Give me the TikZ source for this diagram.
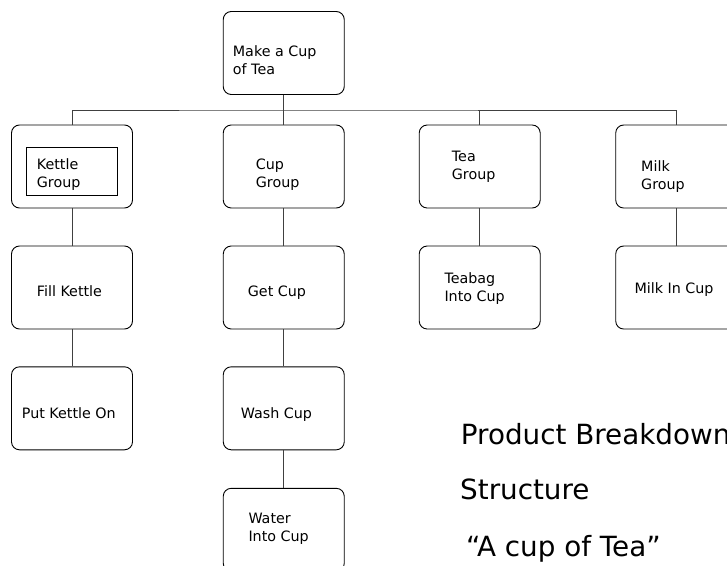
\documentclass[tikz,border=0pt]{standalone}
\usepackage{fontspec}
\setmainfont{DejaVu Sans}
\begin{document}
\begin{tikzpicture}[x=1pt,y=-1pt,
  box/.style={draw=black, line width=0.9pt, rounded corners=8pt,
    minimum width=121pt, minimum height=83pt, inner sep=0pt},
  lbl/.style={anchor=base west, inner sep=0pt, align=left,
    font=\fontsize{14.3}{18}\selectfont},
  big/.style={anchor=base west, inner sep=0pt,
    font=\fontsize{27.8}{33}\selectfont},
  link/.style={draw=black!75, line width=0.9pt}]
\useasboundingbox (0,0) rectangle (727,565);

% boxes of the breakdown tree
\node[box] (mk) at (283.75,53) {};
\node[box] (kg) at (72,166.5) {};
\node[box] (cg) at (283.75,166.5) {};
\node[box] (tg) at (479.7,166.5) {};
\node[box] (mg) at (676.2,166.5) {};
\node[box] (fk) at (72,287.5) {};
\node[box] (gc) at (283.75,287.5) {};
\node[box] (tb) at (479.7,287.5) {};
\node[box] (mc) at (676.2,287.5) {};
\node[box] (pk) at (72,408.3) {};
\node[box] (wc) at (283.75,408.3) {};
\node[box] (wi) at (283.75,529.8) {};

% plain frame inside the kettle group
\draw[line width=0.9pt] (26.7,147.3) rectangle (117.3,195.7);

% labels (base anchor sits on the last line)
\node[lbl] (mkt) at (232.7,74) {Make a Cup\\of Tea};
\node[lbl] (kgt) at (36.7,187.5) {Kettle\\Group};
\node[lbl] (cgt) at (255.7,187.3) {Cup\\Group};
\node[lbl] (tgt) at (451.7,179.3) {Tea\\Group};
\node[lbl] (mgt) at (641,189.3) {Milk\\Group};
\node[lbl] (fkt) at (36.7,296.7) {Fill Kettle};
\node[lbl] (gct) at (247.7,296.7) {Get Cup};
\node[lbl] (tbt) at (444.3,301) {Teabag\\Into Cup};
\node[lbl] (mct) at (634.3,293.3) {Milk In Cup};
\node[lbl] (pkt) at (21.7,418.3) {Put Kettle On};
\node[lbl] (wct) at (240.7,418.3) {Wash Cup};
\node[lbl] (wit) at (248.3,541.7) {Water\\Into Cup};

% title
\node[big] (t1) at (460.7,444) {Product Breakdown};
\node[big] (t2) at (460,499.3) {Structure};
\node[big] (t3) at (466,556) {“A cup of Tea”};

% connectors
\coordinate (bus) at (283.75,110);
\draw[link] (mk.south) -- (bus);
\draw[link] (kg.north) |- (bus) -| (mg.north);
\draw[link] (cg.north) -- (cg.north |- bus);
\draw[link] (tg.north) -- (tg.north |- bus);
\draw[link] (kg.south) -- (fk.north);
\draw[link] (fk.south) -- (pk.north);
\draw[link] (cg.south) -- (gc.north);
\draw[link] (gc.south) -- (wc.north);
\draw[link] (wc.south) -- (wi.north);
\draw[link] (tg.south) -- (tb.north);
\draw[link] (mg.south) -- (mc.north);
\end{tikzpicture}
\end{document}
